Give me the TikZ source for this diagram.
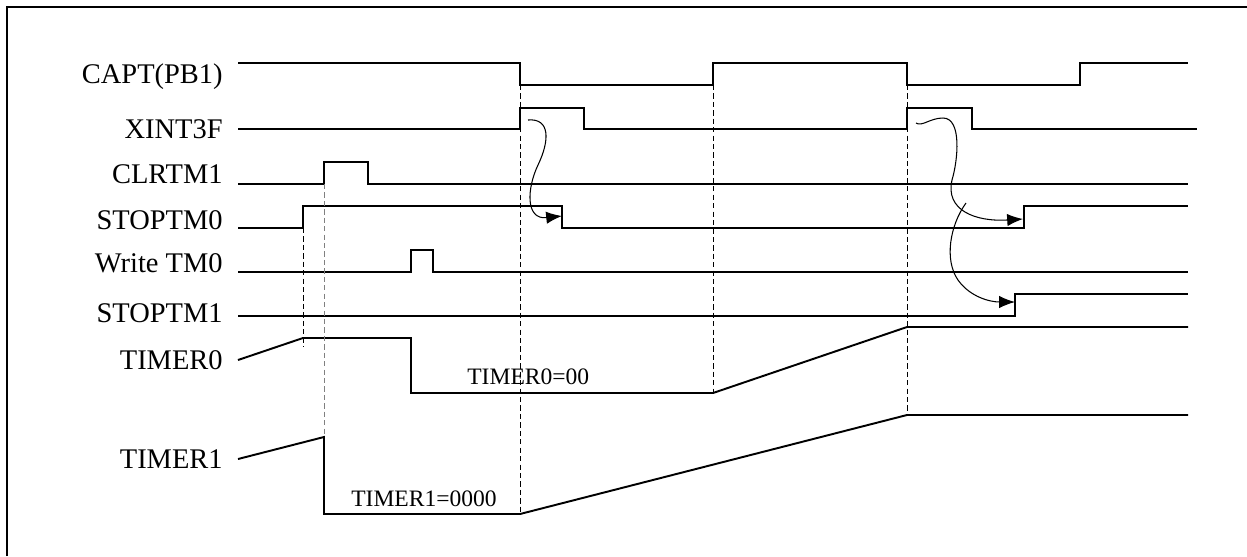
\documentclass[tikz,border=0pt]{standalone}
\usepackage{fontspec}
\setmainfont{Liberation Serif}
\usetikzlibrary{arrows.meta}

\begin{document}
\begin{tikzpicture}[x=0.02cm, y=-0.02cm,
        wave/.style={line width=1.1pt},
        guide/.style={line width=0.5pt, dash pattern=on 3pt off 1.8pt},
        cause/.style={line width=0.6pt, -{Latex[length=9pt,width=7pt]}},
        sig/.style={anchor=base east, inner sep=0pt, font=\fontsize{16.2}{18}\selectfont},
        val/.style={inner sep=0pt, font=\fontsize{13.4}{15}\selectfont}]
            \useasboundingbox (0,0) rectangle (1247,556);
            \draw [line width=1.4pt] (7,556) -- (7,7) -- (1247,7);
            \node [sig] (CAPT) at (223,83) {CAPT(PB1)};
            \node [sig] (XINT) at (223,138) {XINT3F};
            \node [sig] (CLR1) at (223,183) {CLRTM1};
            \node [sig] (STOP0) at (223,229) {STOPTM0};
            \node [sig] (WR0) at (223,272) {Write TM0};
            \node [sig] (STOP1) at (223,322) {STOPTM1};
            \node [sig] (TM0) at (223,369) {TIMER0};
            \node [sig] (TM1) at (223,468) {TIMER1};
            \node [val, anchor=base west] (TM0val) at (467,384) {TIMER0=00};
            \node [val, anchor=base east] (TM1val) at (497,506) {TIMER1=0000};
            \draw [wave] (238,63) -- (520,63) -- (520,85) -- (713,85) -- (713,63) -- (907,63) -- (907,85) -- (1080,85) -- (1080,63) -- (1188,63);
            \draw [wave] (238,129) -- (520,129) -- (520,108) -- (584,108) -- (584,129) -- (907,129) -- (907,108) -- (972,108) -- (972,129) -- (1197,129);
            \draw [wave] (238,184) -- (324,184) -- (324,162) -- (368,162) -- (368,184) -- (1188,184);
            \draw [wave] (238,228) -- (303,228) -- (303,206) -- (562,206) -- (562,228) -- (1024,228) -- (1024,206) -- (1188,206);
            \draw [wave] (238,272) -- (411,272) -- (411,250) -- (433,250) -- (433,272) -- (1188,272);
            \draw [wave] (238,316) -- (1015,316) -- (1015,294) -- (1188,294);
            \draw [wave] (238,360) -- (303,338) -- (411,338) -- (411,393) -- (713,393) -- (907,327) -- (1188,327);
            \draw [wave] (238,459) -- (324,437) -- (324,514) -- (520,514) -- (907,415) -- (1188,415);
            \draw [guide] (303,228) -- (303,347);
            \draw [guide, gray] (324,184) -- (324,437);
            \draw [guide] (520,85) -- (520,514);
            \draw [guide] (713,85) -- (713,393);
            \draw [guide] (907,85) -- (907,415);
            \coordinate (x1) at (528,120);
            \coordinate (x2) at (916,123);
            \coordinate (x3) at (966,203);
            \coordinate (s0a) at (562,216);
            \coordinate (s0b) at (1023,219);
            \coordinate (s1) at (1015,302);
            \draw [cause] (x1) .. controls (550,118) and (550,140) .. (538,165) .. controls (527,188) and (525,220) .. (s0a);
            \draw [cause] (x2) .. controls (922,127) and (930,118) .. (943,118) .. controls (962,118) and (958,160) .. (952,180) .. controls (945,210) and (975,222) .. (s0b);
            \draw [cause] (x3) .. controls (950,225) and (944,260) .. (958,280) .. controls (970,297) and (990,302) .. (s1);
        \end{tikzpicture}
\end{document}
